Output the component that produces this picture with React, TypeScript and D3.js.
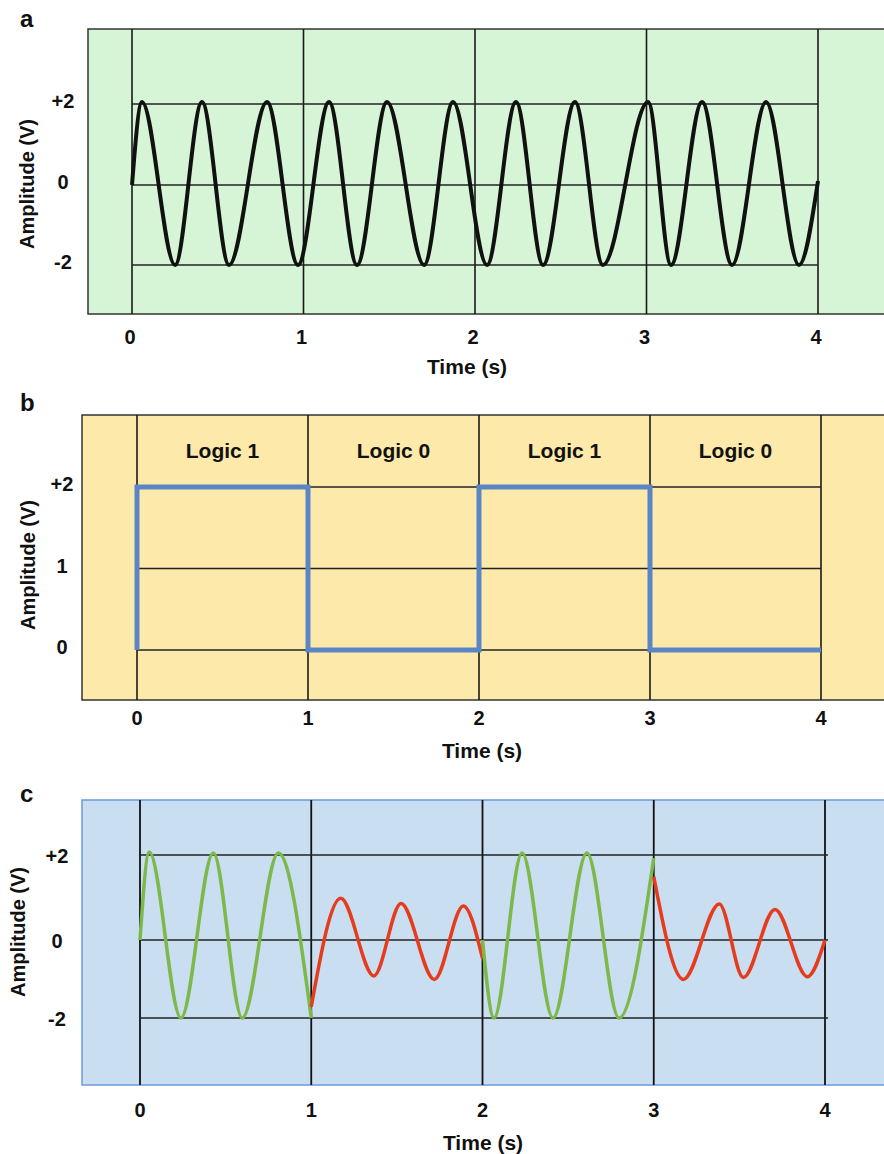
import React from "react";
import * as d3 from "d3";

// shared ticks
const timeTicks = [0, 1, 2, 3, 4];
const ampTicks = [-2, 0, 2];
const ampTickLabels = ["-2", "0", "+2"];
const logicTicks = [0, 1, 2];
const logicTickLabels = ["0", "1", "+2"];

// panel a: carrier, extrema (time s, volts)
const carrierT = [0, 0.058, 0.251, 0.408, 0.566, 0.787, 0.968, 1.149, 1.312, 1.487, 1.703, 1.872,
  2.07, 2.239, 2.397, 2.583, 2.746, 3.009, 3.143, 3.324, 3.499, 3.697, 3.889, 4.0];
const carrierV = [0, 2.05, -2, 2.05, -2, 2.05, -2, 2.05, -2, 2.05, -2, 2.05,
  -2, 2.05, -2, 2.05, -2, 2.05, -2, 2.05, -2, 2.05, -2, 0.1];

// panel b: bits
const logicLabels = ["Logic 1", "Logic 0", "Logic 1", "Logic 0"];
const bitT = [0, 0, 1, 2, 3, 4];
const bitV = [0, 2, 0, 2, 0, 0];

// panel c: modulated signal segments
const seg1T = [0, 0.054, 0.239, 0.428, 0.597, 0.808, 1.0];
const seg1V = [0, 2.07, -2, 2.05, -2, 2.05, -2];
const seg2T = [1.0, 1.172, 1.366, 1.524, 1.719, 1.888, 2.0];
const seg2V = [-1.71, 0.98, -0.92, 0.86, -1.01, 0.8, -0.47];
const seg3T = [2.0, 2.067, 2.231, 2.412, 2.61, 2.797, 3.0];
const seg3V = [0, -2, 2.05, -2, 2.05, -2, 1.93];
const seg4T = [3.0, 3.173, 3.383, 3.523, 3.708, 3.897, 4.0];
const seg4V = [1.49, -1.01, 0.85, -0.96, 0.72, -0.94, 0];

const font = "'Liberation Sans', Arial, Helvetica, sans-serif";
const zip = (t: number[], v: number[]) => t.map((d, i) => [d, v[i]] as [number, number]);

function YTitle({ x, y }: { x: number; y: number }) {
  return (
    <text x={x} y={y} transform={`rotate(-90 ${x} ${y})`} textAnchor="middle"
      dominantBaseline="central" fontSize={20} fontWeight="bold">Amplitude (V)</text>
  );
}

export default function App() {
  // panel a
  const xA = d3.scaleLinear().domain([0, 4]).range([132, 818]);
  const yA = d3.scaleLinear().domain([-2, 0, 2]).range([265, 185, 104]);
  const lineA = d3.line<[number, number]>().x(d => xA(d[0])).y(d => yA(d[1])).curve(d3.curveMonotoneX);

  // panel b
  const xB = d3.scaleLinear().domain([0, 4]).range([137, 821]);
  const yB = d3.scaleLinear().domain([0, 2]).range([650, 487]);
  const lineB = d3.line<[number, number]>().x(d => xB(d[0])).y(d => yB(d[1])).curve(d3.curveStepAfter);

  // panel c
  const xC = d3.scaleLinear().domain([0, 4]).range([140, 825]);
  const yC = d3.scaleLinear().domain([-2, 0, 2]).range([1018, 940, 855]);
  const lineC = d3.line<[number, number]>().x(d => xC(d[0])).y(d => yC(d[1])).curve(d3.curveMonotoneX);

  const green = "#7cb84a", red = "#e63c1e";
  const segs = [
    { t: seg1T, v: seg1V, c: green },
    { t: seg2T, v: seg2V, c: red },
    { t: seg3T, v: seg3V, c: green },
    { t: seg4T, v: seg4V, c: red },
  ];

  return (
    <svg width={884} height={1154} style={{ position: "absolute", left: 0, top: 0 }}
      fontFamily={font} fill="#111">
      <rect width={884} height={1154} fill="#fff" />

      {/* ---- a ---- */}
      <text x={20} y={27} fontSize={24} fontWeight="bold">a</text>
      <rect x={88} y={29} width={820} height={285} fill="#d6f5d6" stroke="#333" strokeWidth={1.5} />
      {timeTicks.map(t => (
        <line key={t} x1={xA(t)} x2={xA(t)} y1={29} y2={314} stroke="#1a1a1a" strokeWidth={1.6} />
      ))}
      {ampTicks.map(v => (
        <line key={v} x1={xA(0)} x2={xA(4)} y1={yA(v)} y2={yA(v)} stroke="#222" strokeWidth={1.4} />
      ))}
      <path d={lineA(zip(carrierT, carrierV)) || ""} fill="none" stroke="#111" strokeWidth={4} />
      {ampTicks.map((v, i) => (
        <text key={v} x={63} y={yA(v) - 3} textAnchor="middle" dominantBaseline="central"
          fontSize={20} fontWeight="bold">{ampTickLabels[i]}</text>
      ))}
      {timeTicks.map(t => (
        <text key={t} x={xA(t) - 2} y={337} textAnchor="middle" dominantBaseline="central"
          fontSize={20} fontWeight="bold">{t}</text>
      ))}
      <text x={467} y={366} textAnchor="middle" dominantBaseline="central" fontSize={21} fontWeight="bold">Time (s)</text>
      <YTitle x={27} y={184} />

      {/* ---- b ---- */}
      <text x={20} y={411} fontSize={24} fontWeight="bold">b</text>
      <rect x={82} y={415} width={820} height={285} fill="#fde9aa" stroke="#333" strokeWidth={1.5} />
      {timeTicks.map(t => (
        <line key={t} x1={xB(t)} x2={xB(t)} y1={415} y2={700} stroke="#1a1a1a" strokeWidth={1.6} />
      ))}
      {logicTicks.map(v => (
        <line key={v} x1={xB(0)} x2={xB(4)} y1={yB(v)} y2={yB(v)} stroke="#222" strokeWidth={1.4} />
      ))}
      {logicLabels.map((l, i) => (
        <text key={i} x={(xB(i) + xB(i + 1)) / 2} y={450} textAnchor="middle" dominantBaseline="central"
          fontSize={21} fontWeight="bold">{l}</text>
      ))}
      <path d={lineB(zip(bitT, bitV)) || ""} fill="none" stroke="#5b86c5" strokeWidth={5} />
      {logicTicks.map((v, i) => (
        <text key={v} x={62} y={yB(v) - 3} textAnchor="middle" dominantBaseline="central"
          fontSize={20} fontWeight="bold">{logicTickLabels[i]}</text>
      ))}
      {timeTicks.map(t => (
        <text key={t} x={xB(t)} y={718} textAnchor="middle" dominantBaseline="central"
          fontSize={20} fontWeight="bold">{t}</text>
      ))}
      <text x={482} y={750} textAnchor="middle" dominantBaseline="central" fontSize={21} fontWeight="bold">Time (s)</text>
      <YTitle x={28} y={565} />

      {/* ---- c ---- */}
      <text x={20} y={802} fontSize={24} fontWeight="bold">c</text>
      <rect x={82} y={800} width={820} height={285} fill="#c9def1" stroke="#6b9bd8" strokeWidth={1.5} />
      {timeTicks.map(t => (
        <line key={t} x1={xC(t)} x2={xC(t)} y1={800} y2={1085} stroke="#111" strokeWidth={1.8} />
      ))}
      {ampTicks.map(v => (
        <line key={v} x1={xC(0)} x2={xC(4) + 3} y1={yC(v)} y2={yC(v)} stroke="#222" strokeWidth={1.4} />
      ))}
      {segs.map((s, i) => (
        <path key={i} d={lineC(zip(s.t, s.v)) || ""} fill="none" stroke={s.c} strokeWidth={3.5} />
      ))}
      {ampTicks.map((v, i) => (
        <text key={v} x={57} y={yC(v) + 1} textAnchor="middle" dominantBaseline="central"
          fontSize={20} fontWeight="bold">{ampTickLabels[i]}</text>
      ))}
      {timeTicks.map(t => (
        <text key={t} x={xC(t)} y={1110} textAnchor="middle" dominantBaseline="central"
          fontSize={20} fontWeight="bold">{t}</text>
      ))}
      <text x={483} y={1142} textAnchor="middle" dominantBaseline="central" fontSize={21} fontWeight="bold">Time (s)</text>
      <YTitle x={18} y={932} />
    </svg>
  );
}
